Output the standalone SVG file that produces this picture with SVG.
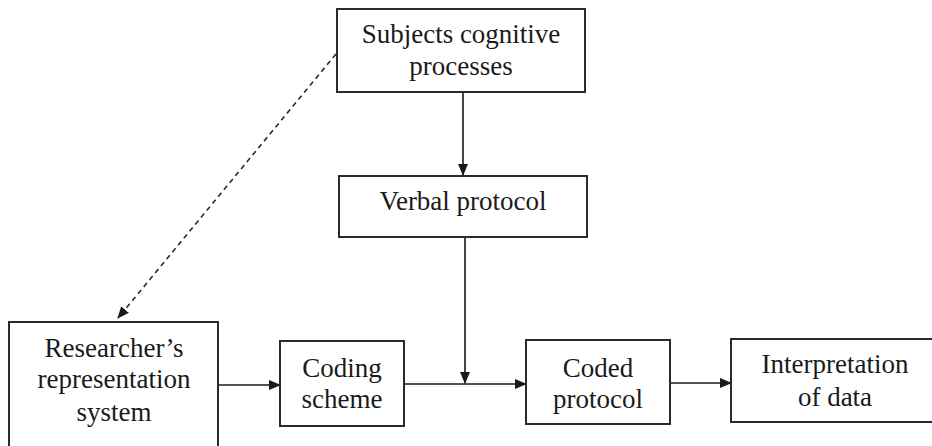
<svg xmlns="http://www.w3.org/2000/svg" width="932" height="446" viewBox="0 0 932 446">
<style>
.box{fill:#fff;stroke:#2a2a2a;stroke-width:2}
.t{font-family:"Liberation Serif","Times New Roman",serif;font-size:27px;fill:#1a1a1a;text-anchor:middle}
.c{stroke:#1a1a1a;stroke-width:1.6;fill:none}
.d{stroke:#2a2a2a;stroke-width:1.6;fill:none;stroke-dasharray:5 4}
</style>
<defs>
<marker id="ah" markerWidth="12" markerHeight="10" refX="11" refY="5" orient="auto" markerUnits="userSpaceOnUse">
<path d="M0,0 L12,5 L0,10 Z" fill="#1a1a1a"/>
</marker>
</defs>
<rect width="932" height="446" fill="#fff"/>
<g id="connectors">
<line class="d" x1="336" y1="54" x2="118" y2="318" marker-end="url(#ah)"/>
<line class="c" x1="463" y1="93" x2="463" y2="175" marker-end="url(#ah)"/>
<line class="c" x1="465" y1="237" x2="465" y2="383" marker-end="url(#ah)"/>
<line class="c" x1="218" y1="385" x2="280" y2="385" marker-end="url(#ah)"/>
<line class="c" x1="404" y1="384" x2="526" y2="384" marker-end="url(#ah)"/>
<line class="c" x1="670" y1="383" x2="731" y2="383" marker-end="url(#ah)"/>
</g>
<g id="subjects">
<rect class="box" x="337" y="9" width="248" height="83"/>
<text class="t" x="461" y="43">Subjects cognitive</text>
<text class="t" x="461" y="75">processes</text>
</g>
<g id="verbal">
<rect class="box" x="339" y="176" width="248" height="61"/>
<text class="t" x="463" y="210">Verbal protocol</text>
</g>
<g id="researcher">
<rect class="box" x="9" y="322" width="209" height="130"/>
<text class="t" x="114" y="357">Researcher’s</text>
<text class="t" x="114" y="388">representation</text>
<text class="t" x="114" y="421">system</text>
</g>
<g id="coding">
<rect class="box" x="280" y="341" width="124" height="85"/>
<text class="t" x="342" y="377">Coding</text>
<text class="t" x="342" y="408">scheme</text>
</g>
<g id="coded">
<rect class="box" x="526" y="340" width="144" height="84"/>
<text class="t" x="598" y="377">Coded</text>
<text class="t" x="598" y="408">protocol</text>
</g>
<g id="interpretation">
<rect class="box" x="731" y="339" width="210" height="83"/>
<text class="t" x="835" y="373">Interpretation</text>
<text class="t" x="835" y="406">of data</text>
</g>
</svg>
